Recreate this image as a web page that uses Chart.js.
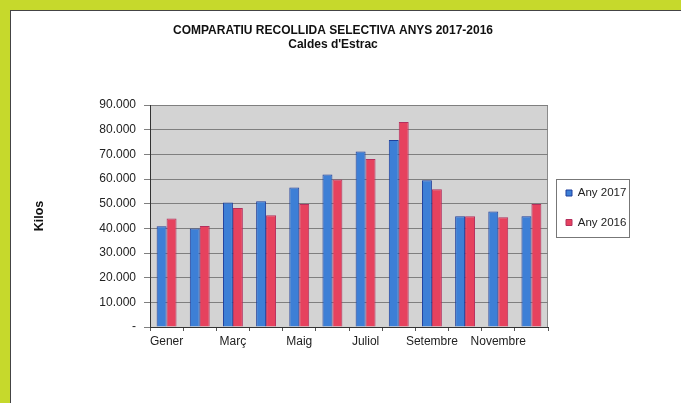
<!DOCTYPE html>
<html>
<head>
<meta charset="utf-8">
<script src="https://cdn.jsdelivr.net/npm/chart.js@4.4.0/dist/chart.umd.min.js"></script>
<style>
  body { margin: 0; background: #c6d92c; width: 681px; height: 403px; overflow: hidden; }
  #frame { position: absolute; left: 10px; top: 10px; width: 671px; height: 393px;
           background: #fff; border-left: 1px solid #444; border-top: 1px solid #444; }
  #box { position: absolute; left: 0; top: 0; width: 670px; height: 392px; }
</style>
</head>
<body>
<div id="frame"><div id="box"><canvas id="myChart"></canvas></div></div>
<script>
// dades
const months = ['Gener','Febrer','Març','Abril','Maig','Juny','Juliol','Agost','Setembre','Octubre','Novembre','Desembre'];
const any2017 = [40900, 39900, 50500, 51000, 56600, 61800, 71200, 75800, 59500, 44900, 46800, 44900];
const any2016 = [44000, 41000, 48300, 45300, 49900, 59800, 68100, 83100, 55900, 44900, 44500, 49900];
const titleLines = ['COMPARATIU RECOLLIDA SELECTIVA ANYS 2017-2016', "Caldes d'Estrac"];

Chart.defaults.font.family = '"Liberation Sans", Arial, sans-serif';
Chart.defaults.color = '#222';

// gray plot background, title a bit left of canvas centre
const plotBg = {
  id: 'plotBg',
  beforeDraw(chart) {
    const tb = chart.titleBlock;
    tb.left = 0; tb.right = 644;
    const {ctx, chartArea: a} = chart;
    ctx.save();
    ctx.fillStyle = '#d3d3d3';
    ctx.fillRect(a.left, a.top, a.right - a.left, a.bottom - a.top);
    ctx.strokeStyle = '#8a8a8a';
    ctx.lineWidth = 1;
    ctx.beginPath();
    ctx.moveTo(a.right - 0.5, a.top);
    ctx.lineTo(a.right - 0.5, a.bottom);
    ctx.stroke();
    ctx.restore();
  }
};

// fixed legend width + frame round it
const legendBox = {
  id: 'legendBox',
  beforeInit(chart) {
    const fit = chart.legend.fit;
    chart.legend.fit = function() {
      fit.call(this);
      this.width = 125;
    };
  },
  afterDraw(chart) {
    const boxes = chart.legend.legendHitBoxes;
    if (!boxes || !boxes.length) return;
    const ctx = chart.ctx;
    let l = Infinity, r = -Infinity, t = Infinity, b = -Infinity;
    boxes.forEach(h => {
      l = Math.min(l, h.left); r = Math.max(r, h.left + h.width);
      t = Math.min(t, h.top); b = Math.max(b, h.top + h.height);
    });
    ctx.save();
    ctx.strokeStyle = '#777';
    ctx.lineWidth = 1;
    ctx.strokeRect(Math.round(l - 10) + 0.5, Math.round(t - 8) + 0.5, Math.round(r - l + 13), Math.round(b - t + 17));
    ctx.restore();
  }
};

const ctx = document.getElementById('myChart');
new Chart(ctx, {
  type: 'bar',
  data: {
    labels: months,
    datasets: [
      { label: 'Any 2017', data: any2017, backgroundColor: '#3d7fd6', borderColor: '#1f3f9c', borderWidth: 1 },
      { label: 'Any 2016', data: any2016, backgroundColor: '#e6425e', borderColor: '#b4305e', borderWidth: 1 }
    ]
  },
  options: {
    responsive: true,
    maintainAspectRatio: false,
    animation: false,
    categoryPercentage: 0.6,
    barPercentage: 1.0,
    layout: { padding: { left: 16, right: 8, top: 0, bottom: 54 } },
    plugins: {
      title: {
        display: true,
        text: titleLines,
        color: '#111',
        font: { size: 12, weight: 'bold', lineHeight: 1.17 },
        padding: { top: 13, bottom: 53 }
      },
      legend: {
        position: 'right',
        title: { display: true, text: '', font: { size: 10 }, padding: 21.75 },
        labels: { boxWidth: 6, boxHeight: 6, padding: 18, font: { size: 11.5 }, color: '#222' }
      },
      tooltip: { enabled: false }
    },
    scales: {
      x: {
        afterFit: s => { s.height = 22; },
        grid: { display: true, drawOnChartArea: false, drawTicks: true, tickLength: 4, color: '#555', offset: true },
        border: { display: true, color: '#333' },
        ticks: {
          autoSkip: false, maxRotation: 0, padding: 3, font: { size: 12 },
          callback: function(v, i) { return i % 2 ? '' : this.getLabelForValue(v); }
        }
      },
      y: {
        min: 0, max: 90000,
        afterFit: s => { s.width = 123; },
        title: { display: true, text: 'Kilos', color: '#111', font: { size: 12.5, weight: 'bold' }, padding: { top: 5.5, bottom: 0 } },
        grid: { color: '#7f7f7f', tickLength: 6, drawTicks: true },
        border: { display: true, color: '#333' },
        ticks: {
          stepSize: 10000, padding: 8, font: { size: 12 },
          callback: v => v === 0 ? '-' : (v / 1000) + '.000'
        }
      }
    }
  },
  plugins: [plotBg, legendBox]
});
</script>
</body>
</html>
